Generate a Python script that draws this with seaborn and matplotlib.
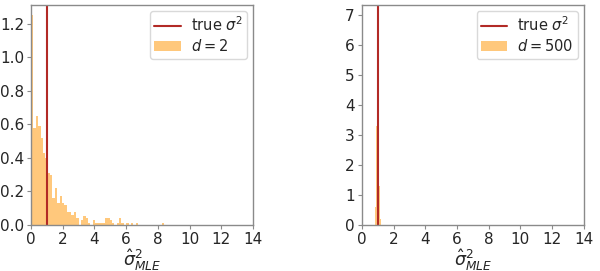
import numpy as np
import pandas as pd
import matplotlib
matplotlib.use("Agg")
import matplotlib.pyplot as plt
import seaborn as sns
from matplotlib.lines import Line2D
from matplotlib.patches import Patch

# ---- data ----
true_sigma2 = 1.0

# d = 2 : density histogram, bins of width 0.15 starting at 0
d2_bin_start = 0.0
d2_bin_width = 0.15
d2_heights = [1.25, 0.58, 0.65, 0.59, 0.52, 0.43, 0.40, 0.31, 0.30, 0.16,
              0.22, 0.13, 0.17, 0.13, 0.12, 0.075, 0.075, 0.06, 0.075, 0.04,
              0.0, 0.027, 0.053, 0.04, 0.013, 0.0, 0.027, 0.013, 0.013, 0.013,
              0.013, 0.04, 0.04, 0.027, 0.013, 0.0, 0.013, 0.04, 0.013, 0.0,
              0.013, 0.0, 0.013, 0.0, 0.013, 0.0, 0.0, 0.0, 0.0, 0.0,
              0.0, 0.0, 0.0, 0.0, 0.0, 0.013]

# d = 500 : density histogram, bins of width 0.02 starting at 0.82
d500_bin_start = 0.82
d500_bin_width = 0.02
d500_heights = [0.15, 0.3, 0.6, 1.1, 2.0, 3.3, 4.6, 5.8, 7.0, 6.3,
                5.5, 4.3, 3.1, 2.1, 1.3, 0.8, 0.4, 0.2, 0.1]

xticks = [0, 2, 4, 6, 8, 10, 12, 14]
left_yticks = [0.0, 0.2, 0.4, 0.6, 0.8, 1.0, 1.2]
right_yticks = [0, 1, 2, 3, 4, 5, 6, 7]
labels = ["$d = 2$", "$d = 500$"]

# ---- style ----
sns.set_style("ticks")
plt.rcParams["font.family"] = ["DejaVu Sans"]
plt.rcParams["mathtext.fontset"] = "dejavusans"

bar_color = "#ffc87c"
line_color = "#b22a26"
spine_color = "#8a8a8a"

fig = plt.figure(figsize=(6.0, 2.71), dpi=100)
ax1 = fig.add_axes([0.0517, 0.170, 0.37, 0.812])
ax2 = fig.add_axes([0.603, 0.170, 0.37, 0.812])


def draw(ax, start, width, heights, label, yticks, yfmt):
    n = len(heights)
    edges = [float(start + width * i) for i in range(n + 1)]
    centers = [(edges[i] + edges[i + 1]) / 2 for i in range(n)]
    df = pd.DataFrame({"x": centers, "w": heights})
    sns.histplot(data=df, x="x", weights="w", bins=edges, stat="count",
                 color=bar_color, alpha=1.0, linewidth=0,
                 element="bars", ax=ax)
    ax.axvline(true_sigma2, color=line_color, lw=1.5)
    ax.set_xlim(0, 14)
    ax.set_ylim(0, max(heights) * 1.05)
    ax.set_xticks(xticks)
    ax.set_yticks(yticks)
    ax.set_yticklabels([yfmt.format(v) for v in yticks])
    ax.tick_params(labelsize=11, length=3, width=0.8, color=spine_color,
                   pad=2)
    ax.set_ylabel("")
    ax.set_xlabel(r"$\hat{\sigma}^2_{MLE}$", fontsize=12.5, labelpad=0)
    for s in ax.spines.values():
        s.set_visible(True)
        s.set_color(spine_color)
        s.set_linewidth(1.0)
    handles = [Line2D([], [], color=line_color, lw=1.5),
               Patch(facecolor=bar_color, linewidth=0)]
    ax.legend(handles, [r"true $\sigma^2$", label], loc="upper right",
              fontsize=10.5, frameon=True, framealpha=0.8,
              edgecolor="#d0d0d0", handlelength=1.8, handletextpad=0.7,
              borderpad=0.3, labelspacing=0.3, borderaxespad=0.4)


draw(ax1, d2_bin_start, d2_bin_width, d2_heights, labels[0], left_yticks, "{:.1f}")
draw(ax2, d500_bin_start, d500_bin_width, d500_heights, labels[1], right_yticks, "{:d}")

fig.savefig("out.png", dpi=100)
